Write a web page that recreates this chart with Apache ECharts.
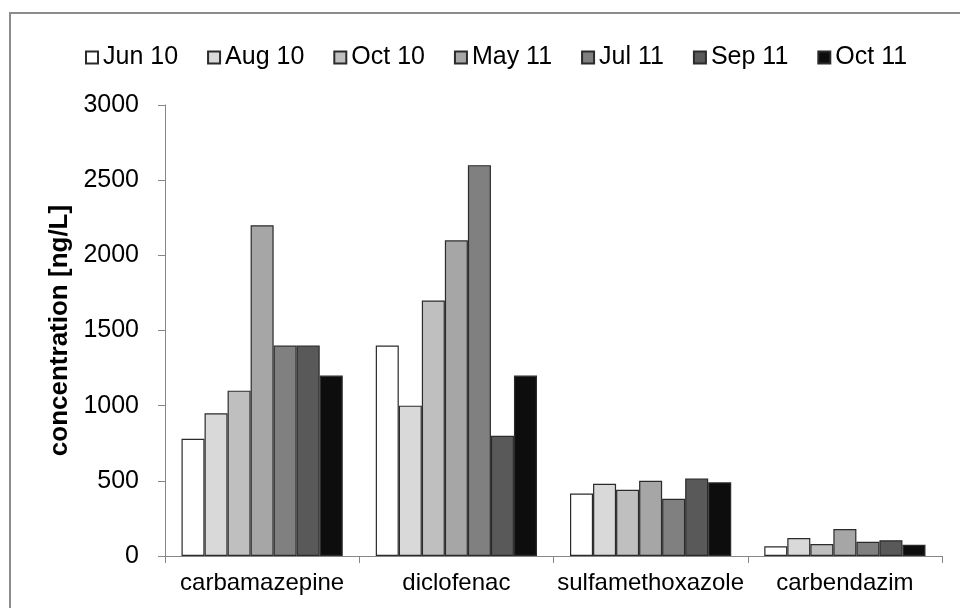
<!DOCTYPE html>
<html>
<head>
<meta charset="utf-8">
<script src="https://cdn.jsdelivr.net/npm/echarts@6/dist/echarts.min.js"></script>
<style>html,body{margin:0;padding:0;background:#fff;}#c{width:960px;height:608px;}</style>
</head>
<body>
<div id="c"></div>
<script>
const categories = ['carbamazepine', 'diclofenac', 'sulfamethoxazole', 'carbendazim'];
const seriesNames = ['Jun 10', 'Aug 10', 'Oct 10', 'May 11', 'Jul 11', 'Sep 11', 'Oct 11'];
const jun10 = [780, 1400, 415, 65];
const aug10 = [950, 1000, 480, 120];
const oct10 = [1100, 1700, 440, 80];
const may11 = [2200, 2100, 500, 180];
const jul11 = [1400, 2600, 380, 95];
const sep11 = [1400, 800, 515, 105];
const oct11 = [1200, 1200, 490, 75];
const seriesValues = [jun10, aug10, oct10, may11, jul11, sep11, oct11];
const colors = ['#ffffff', '#d9d9d9', '#bfbfbf', '#a6a6a6', '#808080', '#595959', '#0d0d0d'];
const yTicks = { min: 0, max: 3000, step: 500 };

const FONT = '"Liberation Sans", Arial, sans-serif';
const chart = echarts.init(document.getElementById('c'), null, { renderer: 'canvas' });
chart.setOption({
  animation: false,
  backgroundColor: '#ffffff',
  graphic: [{
    type: 'rect', silent: true, z: -1,
    shape: { x: 10, y: 13, width: 1000, height: 1000 },
    style: { fill: 'none', stroke: '#8c8c8c', lineWidth: 2 }
  }],
  legend: {
    top: 40, left: 80,
    itemWidth: 12, itemHeight: 12, itemGap: 29,
    icon: 'rect',
    textStyle: { fontFamily: FONT, fontSize: 25, color: '#000' },
    data: seriesNames
  },
  grid: { left: 165, right: 18, top: 105, bottom: 52, containLabel: false },
  xAxis: {
    type: 'category', data: categories,
    axisLine: { lineStyle: { color: '#868686', width: 1 } },
    axisTick: { show: true, length: 7, alignWithLabel: false, lineStyle: { color: '#868686' } },
    axisLabel: { fontFamily: FONT, fontSize: 24, color: '#000', margin: 15, interval: 0 }
  },
  yAxis: {
    type: 'value', min: yTicks.min, max: yTicks.max, interval: yTicks.step,
    name: 'concentration [ng/L]', nameLocation: 'middle', nameRotate: 90, nameGap: 88,
    nameTextStyle: { fontFamily: FONT, fontSize: 26, fontWeight: 'bold', color: '#000' },
    axisLine: { show: true, lineStyle: { color: '#868686', width: 1 } },
    axisTick: { show: true, length: 7, lineStyle: { color: '#868686' } },
    splitLine: { show: false },
    axisLabel: { fontFamily: FONT, fontSize: 25, color: '#000', margin: 26, formatter: v => String(v) }
  },
  series: seriesNames.map((n, i) => ({
    name: n, type: 'bar', data: seriesValues[i],
    barGap: '0%', barCategoryGap: '17%',
    itemStyle: { color: colors[i], borderColor: '#2b2b2b', borderWidth: 1.2 }
  }))
});
</script>
</body>
</html>
